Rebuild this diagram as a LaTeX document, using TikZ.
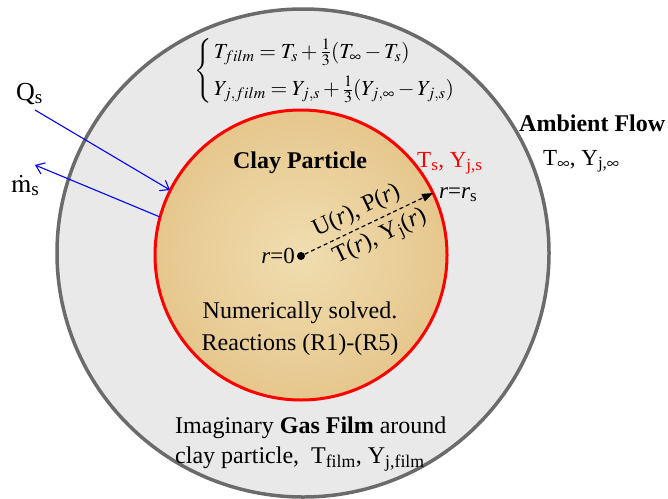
\documentclass[tikz,border=0pt]{standalone}
\usepackage{mathptmx}
\usepackage{fontspec}
\setmainfont{Liberation Serif}
\usetikzlibrary{arrows.meta}
\definecolor{filmgray}{HTML}{E9E9E9}
\definecolor{rimgray}{HTML}{6B6B6B}
\definecolor{taninner}{HTML}{F0DDB0}
\definecolor{tanouter}{HTML}{E6C78D}
\tikzset{
  lbl/.style={inner sep=0pt, font=\fontsize{24}{34}\selectfont},
  lblsm/.style={inner sep=0pt, font=\fontsize{23}{30}\selectfont},
  lblbig/.style={inner sep=0pt, font=\fontsize{26}{30}\selectfont},
  flux/.style={blue, line width=1.1pt, -{Straight Barb[length=8pt,width=12pt]}},
  radius arrow/.style={line width=1.2pt, dash pattern=on 4pt off 3pt, -{Triangle[length=11pt,width=8pt]}},
}
\begin{document}
\begin{tikzpicture}[x=1pt,y=-1pt]
\useasboundingbox (0,0) rectangle (668,498);
% gas film
\draw[rimgray, line width=3.5pt, fill=filmgray] (303,253) ellipse [x radius=246, y radius=244];
% particle
\shade[inner color=taninner, outer color=tanouter] (301,255) ellipse [x radius=146, y radius=145];
\draw[red, line width=3pt] (301,255) ellipse [x radius=146, y radius=145];

% film equations
\node[lbl, anchor=west, font=\fontsize{21.5}{24}\selectfont] (eq) at (194,71)
  {$\left\{\begin{array}{@{\,}l}
   T_{film} = T_s + \frac{1}{3}(T_\infty - T_s)\\[11pt]
   Y_{j,film} = Y_{j,s} + \frac{1}{3}(Y_{j,\infty} - Y_{j,s})
   \end{array}\right.$};

% fluxes
\node[lblbig, anchor=base west] (Q) at (16,100) {Q\textsubscript{s}};
\node[lblbig, anchor=base west] (m) at (11,192) {$\dot{\mathrm{m}}$\textsubscript{s}};
\coordinate (qa) at (35,110);
\coordinate (qb) at (170,190);
\coordinate (ma) at (160,217);
\coordinate (mb) at (35,165);
\draw[flux] (qa) -- (qb);
\draw[flux] (ma) -- (mb);

% labels
\node[lbl, anchor=base, font=\fontsize{24}{34}\selectfont\bfseries] (clay) at (300,168) {Clay Particle};
\node[lblsm, anchor=base west, text=red] (surf) at (417,167) {T\textsubscript{s}, Y\textsubscript{j,s}};
\node[lbl, anchor=base west, font=\fontsize{24}{34}\selectfont\bfseries] (amb) at (519,131) {Ambient Flow};
\node[lblsm, anchor=base west] (inf) at (543,165) {T$_\infty$, Y\textsubscript{j,$\infty$}};

% radius
\node[circle, fill=black, inner sep=0pt, minimum size=8pt] (o) at (301,256) {};
\node[lblsm, anchor=base east] (r0) at (295,263) {\textit{r}=0};
\coordinate (rs) at (433,193);
\node[lblsm, anchor=base west] (rslbl) at (439,198) {\textit{r}=\textit{r}\textsubscript{s}};
\draw[radius arrow] (o) -- (rs)
  node[pos=0.46, sloped, anchor=south, yshift=5pt, lbl] {U(\textit{r}), P(\textit{r})}
  node[pos=0.53, sloped, anchor=north, yshift=-5pt, lbl] {T(\textit{r}), Y\textsubscript{j}(\textit{r})};

% inside text
\node[lbl, anchor=base] (num) at (300,318) {Numerically solved.};
\node[lbl, anchor=base] (reac) at (300,350) {Reactions (R1)-(R5)};

% film text
\node[lbl, anchor=base west] (film1) at (175,433) {Imaginary \textbf{Gas Film} around};
\node[lbl, anchor=base west] (film2) at (175,463) {clay particle,\ \ T\textsubscript{film}, Y\textsubscript{j,film}};
\end{tikzpicture}
\end{document}
